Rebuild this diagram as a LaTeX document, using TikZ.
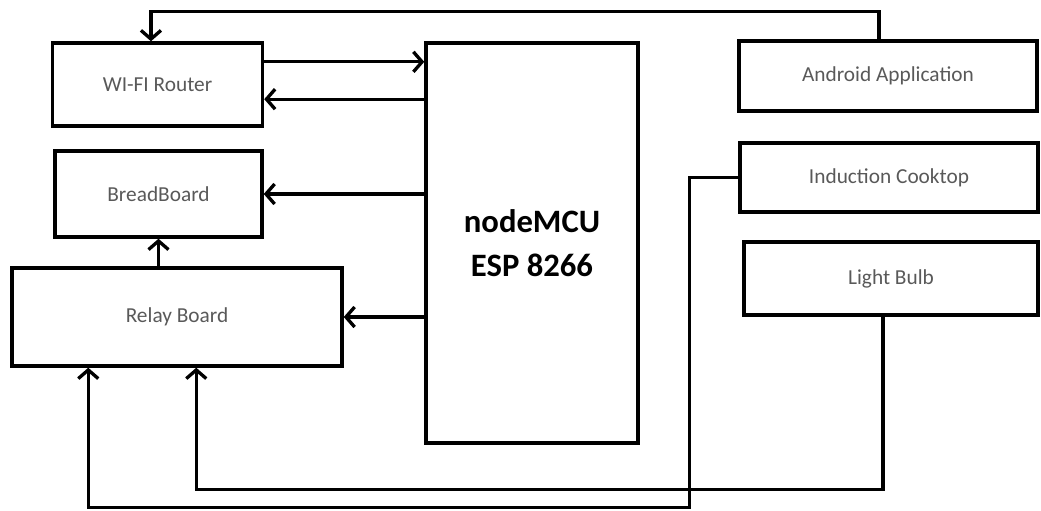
\documentclass[tikz,border=0pt]{standalone}
\usepackage{fontspec}
\setmainfont{Carlito}
\usepackage{tikz}
\usetikzlibrary{arrows.meta}
\usetikzlibrary{positioning}

\begin{document}
\begin{tikzpicture}[x=0.75pt,y=-0.75pt,
		blockbox/.style={draw,line width=2.6pt,inner sep=0pt,text=black!65,font=\fontsize{16}{19}\selectfont},
		mcubox/.style={blockbox,text=black,align=center,font=\fontsize{24.5}{33}\selectfont\bfseries},
		link/.style={line width=2.5pt,-{Straight Barb[length=6.5pt,width=15pt]}}]
		% page frame of the picture
		\useasboundingbox (0,0) rectangle (1041,510);
		
		% left column blocks
		\node[blockbox,minimum width=157.5pt,minimum height=62.25pt] (router) at (157.5,84.5) {WI-FI Router};
		\node[blockbox,minimum width=155.25pt,minimum height=64.5pt] (bread) at (158.5,194) {BreadBoard};
		\node[blockbox,minimum width=247.5pt,minimum height=73.5pt] (relay) at (177,317) {Relay Board};
		
		% the controller in the middle
		\node[mcubox,minimum width=159pt,minimum height=300pt] (mcu) at (532,243) {nodeMCU\\ESP 8266};
		
		% right column blocks
		\node[blockbox,minimum width=223.5pt,minimum height=52.5pt] (android) at (888,76) {Android Application};
		\node[blockbox,minimum width=223.5pt,minimum height=51.75pt] (cooktop) at (889,177.5) {Induction Cooktop};
		\node[blockbox,minimum width=220.5pt,minimum height=54.75pt] (bulb) at (891,278.5) {Light Bulb};
		
		% router <-> controller
		\coordinate (rtx) at ([yshift=17pt]router.east);
		\coordinate (rrx) at ([yshift=-11pt]router.east);
		\draw[link] (rtx) -- (rtx -| mcu.west);
		\draw[link] (rrx -| mcu.west) -- (rrx);
		
		% controller to breadboard and relay board
		\draw[link] (mcu.west |- bread.east) -- (bread.east);
		\draw[link] (mcu.west |- relay.east) -- (relay.east);
		\draw[link] (relay.north -| bread.south) -- (bread.south);
		
		% app back to the router, over the top
		\draw[link] ([xshift=-6.75pt]android.north) -- ++(0,-28) -| ([xshift=-4.9pt]router.north);
		
		% loads back to the relay board, along the bottom
		\draw[link] (cooktop.west) -- ++(-49,0) -- ++(0,330) -| ([xshift=58.5pt]relay.south west);
		\draw[link] ([xshift=-6pt]bulb.south) -- ++(0,173) -| ([xshift=139.5pt]relay.south west);
	\end{tikzpicture}
\end{document}
